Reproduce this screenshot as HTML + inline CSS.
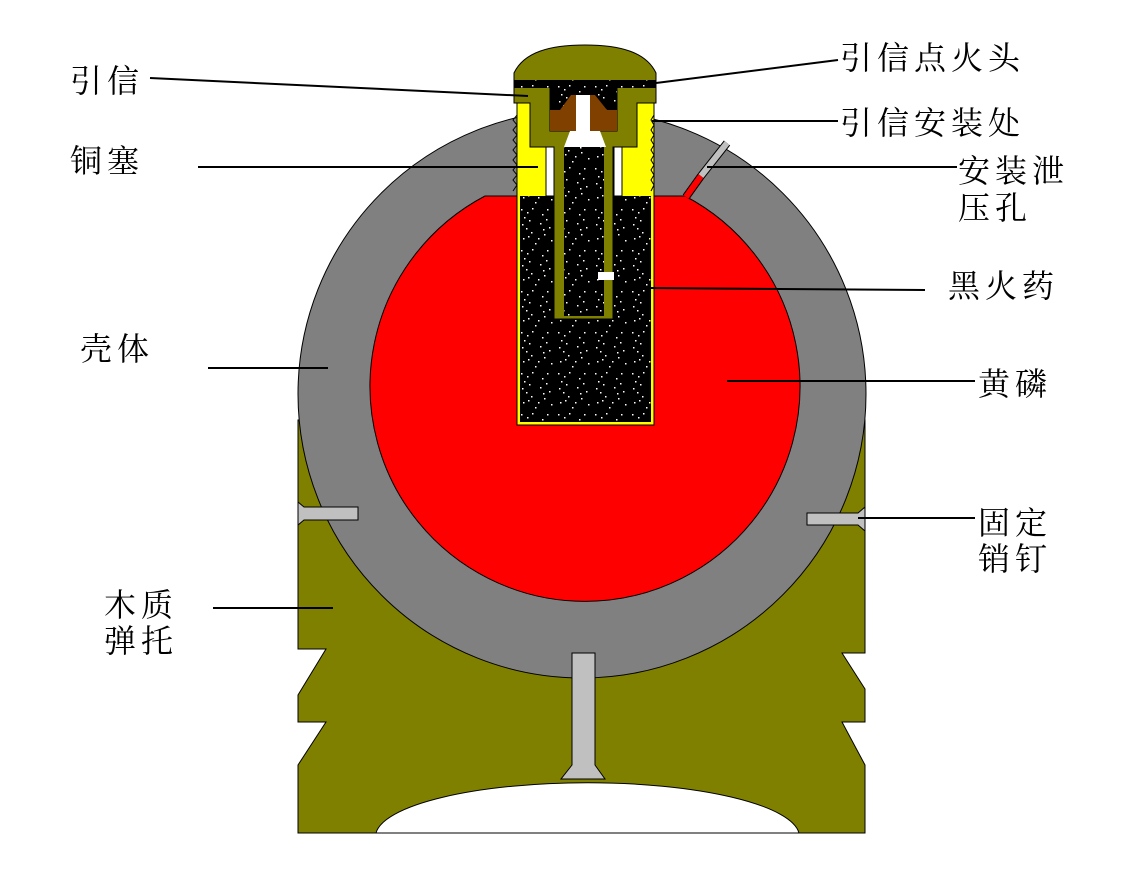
<!DOCTYPE html>
<html><head><meta charset="utf-8"><style>
html,body{margin:0;padding:0;background:#fff;width:1134px;height:872px;overflow:hidden}
text{font-family:"Noto Serif CJK SC","Liberation Serif","Noto Sans CJK SC",serif;font-size:32px;fill:#000;letter-spacing:5px}
</style></head><body>
<svg width="1134" height="872" viewBox="0 0 1134 872" xmlns="http://www.w3.org/2000/svg">
<defs>
<pattern id="sp" width="37" height="41" patternUnits="userSpaceOnUse">
<rect width="37" height="41" fill="#000"/>
<g fill="#fff">
<rect x="3" y="4" width="1.5" height="1.5"/><rect x="9" y="7" width="1.5" height="1.5"/><rect x="6" y="12" width="1.5" height="1.5"/>
<rect x="14" y="3" width="1.5" height="1.5"/><rect x="11" y="15" width="1.5" height="1.5"/><rect x="4" y="19" width="1.5" height="1.5"/>
<rect x="8" y="23" width="1.5" height="1.5"/><rect x="13" y="27" width="1.5" height="1.5"/><rect x="24" y="9" width="1.5" height="1.5"/>
<rect x="28" y="14" width="1.5" height="1.5"/><rect x="22" y="18" width="1.5" height="1.5"/><rect x="31" y="22" width="1.5" height="1.5"/>
<rect x="26" y="29" width="1.5" height="1.5"/><rect x="20" y="33" width="1.5" height="1.5"/><rect x="33" y="35" width="1.5" height="1.5"/>
<rect x="5" y="33" width="1.5" height="1.5"/><rect x="17" y="38" width="1.5" height="1.5"/><rect x="29" y="4" width="1.5" height="1.5"/>
<rect x="10" y="31" width="1.5" height="1.5"/><rect x="25" y="24" width="1.5" height="1.5"/>
</g></pattern>
</defs>
<path d="M298,420 L865,420 L865,653 L842,653 L865,689 L865,722 L842,722 L865,765 L865,833 L298,833 L298,765 L326,722 L298,722 L298,695 L326,649 L298,649 Z" fill="#808000" stroke="#000" stroke-width="1"/>
<path d="M376,833 A212,54 0 0 1 799,833 Z" fill="#fff" stroke="#000" stroke-width="1"/>
<circle cx="582" cy="394" r="284" fill="#808080" stroke="#000" stroke-width="1"/>
<path d="M485,196 L685,196 A215,215 0 1 1 485,196 Z" fill="#f00" stroke="#000" stroke-width="1"/>
<line x1="686" y1="197" x2="701" y2="176" stroke="#000" stroke-width="8"/>
<line x1="686" y1="197" x2="701" y2="176" stroke="#f00" stroke-width="6"/>
<line x1="701" y1="176" x2="727" y2="143" stroke="#000" stroke-width="8"/>
<line x1="701" y1="176" x2="727" y2="143" stroke="#c0c0c0" stroke-width="6"/>
<path d="M298,502 L304,507 L358,507 L358,520 L304,520 L298,525 Z" fill="#c0c0c0" stroke="#000" stroke-width="1"/>
<path d="M865,507 L858,513 L807,513 L807,525 L858,525 L865,531 Z" fill="#c0c0c0" stroke="#000" stroke-width="1"/>
<path d="M572,653 L595,653 L595,765 L605,779 L561,779 L572,765 Z" fill="#c0c0c0" stroke="#000" stroke-width="1"/>
<rect x="517" y="103" width="137" height="322" fill="#ff0" stroke="#000" stroke-width="1"/>
<rect x="520" y="196" width="131" height="226" fill="url(#sp)"/>
<path d="M517,115 l-4,5 l4,5 l-4,5 l4,5 l-4,5 l4,5 l-4,5 l4,5 l-4,5 l4,5 l-4,5 l4,5 l-4,5 l4,5 l-4,6" fill="none" stroke="#000" stroke-width="1"/>
<path d="M654,115 l-3,5 l3,5 l-3,5 l3,5 l-3,5 l3,5 l-3,5 l3,5 l-3,5 l3,5 l-3,5 l3,5 l-3,5 l3,5 l-3,6" fill="none" stroke="#000" stroke-width="1"/>
<rect x="546" y="147" width="8" height="49" fill="#fff" stroke="#000" stroke-width="1"/>
<rect x="614" y="147" width="8" height="49" fill="#fff" stroke="#000" stroke-width="1"/>
<path d="M514,73 C524,52 550,45 585,45 C620,45 646,52 656,73 L656,103 L637,103 L637,147 L613,147 L613,319 L554,319 L554,147 L530,147 L530,103 L514,103 Z" fill="#808000" stroke="#000" stroke-width="1"/>
<rect x="514" y="80" width="142" height="8" fill="url(#sp)"/>
<rect x="550" y="88" width="67" height="43" fill="url(#sp)" stroke="#000" stroke-width="1"/>
<path d="M550,131 L550,110 L560,110 L571,95 L576,95 L576,131 Z" fill="#804000"/>
<path d="M617,131 L617,110 L607,110 L595,95 L590,95 L590,131 Z" fill="#804000"/>
<rect x="576" y="95" width="14" height="36" fill="#fff"/>
<path d="M570,131 L600,131 L606,147 L564,147 Z" fill="#fff"/>
<rect x="564" y="147" width="40" height="169" fill="url(#sp)"/>
<rect x="598" y="272" width="16" height="8" fill="#fff"/>
<g stroke="#000" stroke-width="2">
<line x1="150" y1="78" x2="528" y2="96"/>
<line x1="656" y1="83" x2="838" y2="60"/>
<line x1="652" y1="121" x2="838" y2="121"/>
<line x1="198" y1="167" x2="538" y2="167"/>
<line x1="707" y1="167" x2="957" y2="167"/>
<line x1="650" y1="288" x2="925" y2="290"/>
<line x1="208" y1="368" x2="328" y2="368"/>
<line x1="727" y1="381" x2="975" y2="381"/>
<line x1="858" y1="518" x2="975" y2="518"/>
<line x1="213" y1="608" x2="333" y2="608"/>
</g>
<text x="70" y="92">引信</text>
<text x="70" y="172">铜塞</text>
<text x="80" y="360">壳体</text>
<text x="104" y="616">木质</text>
<text x="104" y="652">弹托</text>
<text x="840" y="69">引信点火头</text>
<text x="840" y="134">引信安装处</text>
<text x="958" y="182">安装泄</text>
<text x="958" y="219">压孔</text>
<text x="948" y="297">黑火药</text>
<text x="978" y="395">黄磷</text>
<text x="978" y="534">固定</text>
<text x="978" y="570">销钉</text>
</svg>
</body></html>
